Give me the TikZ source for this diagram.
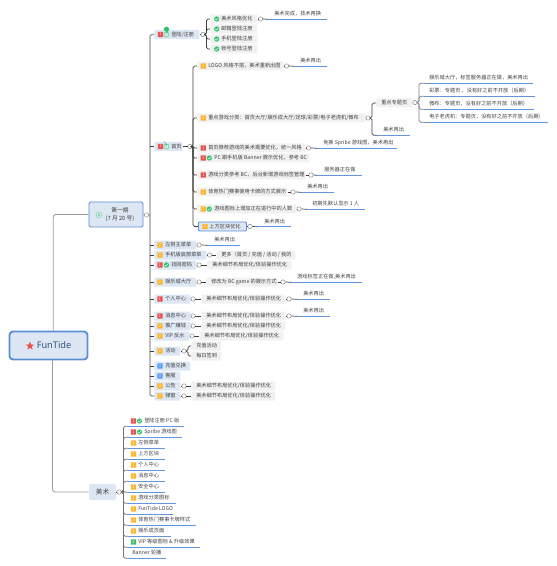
\documentclass[tikz,border=0pt]{standalone}
\usepackage{fontspec}
\usetikzlibrary{shapes.geometric,calc}
\setmainfont{Noto Sans CJK SC}
\newfontfamily\rootfont{Noto Sans}
\newdimen\px \px=0.75pt
\newcount\iconno
\definecolor{txt}{HTML}{404040}
\definecolor{pillc}{HTML}{F1F1F1}
\definecolor{brc}{HTML}{DDE6F3}
\definecolor{bluel}{HTML}{6396DA}
\definecolor{blueb}{HTML}{5B8FD6}
\definecolor{busc}{HTML}{3F3F3F}
\definecolor{trunkc}{HTML}{9B9B9B}
\definecolor{pred}{HTML}{E8534F}
\definecolor{pora}{HTML}{FFB52B}
\definecolor{pblu}{HTML}{5B9BF8}
\definecolor{pgre}{HTML}{3DBE6C}
\definecolor{okc}{HTML}{2CC36B}
\definecolor{rootc}{HTML}{34527F}
\tikzset{
  x=0.75pt,y=-0.75pt,
  base/.style={anchor=west,inner xsep=0pt,inner ysep=0pt,minimum height=9\px,text height=3.3pt,text depth=0.8pt,text=txt,font=\fontsize{3.9}{4.6}\selectfont,rounded corners=1\px},
  pill/.style={base,fill=pillc},
  branch/.style={base,fill=brc},
  plain/.style={base,minimum height=10\px},
  picked/.style={base,fill=brc,draw=blueb,line width=0.9\px},
  cir/.style={circle,draw=gray!90,fill=white,line width=0.5\px,minimum size=4.4\px,inner sep=0pt},
  bus/.style={draw=busc,line width=0.7\px,rounded corners=1.6\px},
  trunk/.style={draw=trunkc,line width=1.3\px,rounded corners=2\px},
  rootline/.style={draw=trunkc,line width=0.9\px,rounded corners=2.5\px},
  ul/.style={draw=bluel,line width=1.1\px},
  pri/.style={rectangle,minimum size=5.2\px,inner sep=0pt,text=white,font=\fontsize{2.8}{3}\selectfont,rounded corners=0.3\px},
  okdot/.style={circle,fill=okc,minimum size=5.2\px,inner sep=0pt},
}
% name, style, x, width, y, pad, text
\newcommand\tn[7]{\node[#2] (#1) at (#3,#5) {\makebox[#4\px][l]{\hspace*{#6\px}#7}};}
% underlined label: name, x, width, line y, pad, text
\newcommand\un[6]{\node[plain] (#1) at (#2,#4-5) {\makebox[#3\px][l]{\hspace*{#5\px}#6}};
  \draw[ul] (#1.south west) -- (#1.south east);}
\newcommand\cir[3]{\node[cir] (#1) at (#2,#3) {};}
\newcommand\pr[4]{\global\advance\iconno by 1 \node[pri,fill=#3] (icon\the\iconno) at (#1,#2) {#4};}
\newcommand\ok[2]{\global\advance\iconno by 1 \node[okdot] (icon\the\iconno) at (#1,#2) {};
  \draw[white,line width=0.45\px,line cap=round] (#1-1.4,#2+0.1) -- (#1-0.3,#2+1.1) -- (#1+1.4,#2-0.9);}
\newcommand\pie[3]{\global\advance\iconno by 1 \node[circle,draw=okc,line width=0.4\px,minimum size=5.2\px,inner sep=0pt] (icon\the\iconno) at (#1,#2) {};
  \fill[okc] (#1,#2) -- (#1,#2-2.6) arc[start angle=90,delta angle=#3,radius=2.6] -- cycle;}
\newcommand\lnk[2]{\draw[bus] (#1) -- (#2);}
\begin{document}
\begin{tikzpicture}
\useasboundingbox (0,0) rectangle (556,566);
\coordinate (tb) at (150,0);
\coordinate (b1) at (206.5,0);
\coordinate (b2) at (193,0);
\coordinate (b3) at (372,0);
\coordinate (b4) at (419,0);
\coordinate (b5) at (188,0);
\coordinate (b6) at (123.5,0);
% root and level one
\node[draw=blueb,fill=brc,line width=1.9\px,rounded corners=3.5\px,minimum width=78\px,minimum height=28\px,inner sep=0pt,text=rootc,font=\rootfont\fontsize{6.9}{9}\selectfont\bfseries] (root) at (48.5,345.5) {\hspace*{11\px}FunTide};
\node[star,star points=5,star point ratio=2.4,fill=pred,minimum size=9\px,inner sep=0pt] (rootstar) at (30,346) {};
\node[draw=blueb,fill=brc,line width=0.8\px,rounded corners=1.5\px,minimum width=54\px,minimum height=25\px,inner sep=0pt,text=txt,font=\fontsize{4.3}{5.6}\selectfont,align=center] (phase) at (116,214.5) {\hspace*{8\px}第一期\\\hspace*{8\px}(7 月 20 号)};
\global\advance\iconno by 1
\node[circle,draw=okc!60,line width=0.6\px,minimum size=5.6\px,inner sep=0pt] (icon\the\iconno) at (99,215) {};
\fill[okc!70] (99,215) circle (1.2);
\node[fill=brc,rounded corners=2\px,minimum width=27\px,minimum height=16\px,inner sep=0pt,text=txt,font=\fontsize{5}{6}\selectfont] (art) at (102.5,492) {美术};
\cir{cp}{146.5}{215}
\cir{ca}{119}{492}
\draw[rootline] ($(root.north west)!0.56!(root.north east)$) |- (phase.west);
\draw[rootline] ($(root.south west)!0.55!(root.south east)$) |- (art.west);
\draw[bus,draw=trunkc] (phase.east) -- (cp);
\lnk{art.east}{ca}
% level two
\tn{login}{branch}{154}{45}{34.5}{17}{登陆/注册}
\pr{160.5}{34.5}{pred}{1}\pie{166.5}{34.5}{270}
\cir{c1}{203}{34.5}
\tn{home}{branch}{154}{28}{146.5}{17}{首页}
\pr{160.5}{146.5}{pred}{1}\pie{166.5}{146.5}{100}
\cir{c2}{190}{146.5}
\tn{menu}{branch}{154}{42}{245}{11}{左侧主菜单}\pr{160}{245}{pora}{2}\cir{c3}{199}{245}
\tn{mob}{branch}{154}{52}{255}{11}{手机版底部菜单}\pr{160}{255}{pora}{2}\cir{c4}{209.5}{255}
\tn{pwd}{branch}{154}{42}{265}{17}{找回密码}\pr{160}{265}{pred}{1}\ok{166.5}{265}\cir{c5}{199}{265}
\tn{casino}{branch}{154}{42}{282}{11}{娱乐城大厅}\pr{160}{282}{pora}{2}\cir{c6}{199}{282}
\tn{user}{branch}{154}{36}{299}{11}{个人中心}\pr{160}{299}{pred}{1}\cir{c7}{193}{299}
\tn{msg}{branch}{154}{36}{316}{11}{消息中心}\pr{160}{316}{pred}{1}\cir{c8}{193}{316}
\tn{promo}{branch}{154}{36}{326}{11}{推广赚钱}\pr{160}{326}{pora}{2}\cir{c9}{193}{326}
\tn{vip}{branch}{154}{35}{336}{11}{VIP 反水}\pr{160}{336}{pora}{2}\cir{c10}{192}{336}
\tn{act}{branch}{154}{26}{351}{11}{活动}\pr{160}{351}{pora}{2}\cir{c11}{184}{351}
\tn{recharge}{branch}{154}{36}{366}{11}{充值兑换}\pr{160}{366}{pblu}{3}
\tn{service}{branch}{154}{26}{376}{11}{客服}\pr{160}{376}{pblu}{3}
\tn{notice}{branch}{154}{26}{386}{11}{公告}\pr{160}{386}{pora}{2}\cir{c12}{184}{386}
\tn{popup}{branch}{154}{26}{396}{11}{弹窗}\pr{160}{396}{pora}{2}\cir{c13}{184}{396}
\draw[trunk] (login.west) -- (login.west -| tb) -- (popup.west -| tb) -- (popup.west);
\draw[trunk,rounded corners=0pt] (cp.east) -- (cp.east -| tb);
\foreach \n in {home,menu,mob,pwd,casino,user,msg,promo,vip,act,recharge,service,notice}{\draw[bus] (\n.west -| tb) -- (\n.west);}
\foreach \p/\c in {login/c1,home/c2,menu/c3,mob/c4,pwd/c5,casino/c6,user/c7,msg/c8,promo/c9,vip/c10,act/c11,notice/c12,popup/c13}{\lnk{\p.east}{\c}}
% login children
\tn{l1}{pill}{210}{47}{19}{11}{美术风格优化}\ok{216.7}{19}\cir{cl1}{260.5}{19}
\tn{l2}{pill}{210}{47}{29}{11}{邮箱登陆注册}\ok{216.7}{29}
\tn{l3}{pill}{210}{47}{39}{11}{手机登陆注册}\ok{216.7}{39}
\tn{l4}{pill}{210}{47}{49}{11}{帐号登陆注册}\ok{216.7}{49}
\foreach \n in {l1,l2,l3,l4}{\draw[bus] (c1.east) -- (c1.east -| b1) |- (\n.west);}
\un{lu}{268}{58}{19}{6}{美术完成，技术再换}
\lnk{l1.east}{cl1}\draw[bus] (cl1.east) -- (lu.south west);
% home children
\tn{h1}{pill}{197}{86}{66}{11}{LOGO 风格不搭，美术重新出图}\pr{203.3}{66}{pora}{2}\cir{ch1}{286.5}{66}
\un{hu1}{294}{32}{66}{6}{美术再出}
\tn{h2}{pill}{197}{168}{118}{11}{重点游戏分类：首页大厅/娱乐成大厅/足球/彩票/电子老虎机/微布}\pr{203.3}{118}{pora}{2}\cir{ch2}{368}{118}
\tn{h3}{pill}{197}{108}{148}{11}{首页推荐游戏的美术需要优化，统一风格}\pr{203.3}{148}{pred}{1}\cir{ch3}{308.5}{148}
\un{hu3}{317}{79}{148}{6}{免换 Spribe 游戏图，美术再出}
\tn{h4}{pill}{197}{112}{158}{17}{PC 跟手机版 Banner 展示优化，参考 BC}\pr{203.3}{158}{pred}{1}\ok{209.3}{158}
\tn{h5}{pill}{197}{108}{175}{11}{游戏分类参考 BC，后台新增游戏标签管理}\pr{203.3}{175}{pred}{1}\cir{ch5}{311}{175}
\un{hu5}{317}{44}{175}{7}{服务器正在做}
\tn{h6}{pill}{197}{90}{192}{11}{体育热门赛事使用卡牌的方式展示}\pr{203.3}{192}{pora}{2}\cir{ch6}{293}{192}
\un{hu6}{301}{32}{192}{6}{美术再出}
\tn{h7}{pill}{197}{99}{209}{17}{游戏图标上增加正在进行中的人数}\pr{203.3}{209}{pora}{2}\ok{209.3}{209}\cir{ch7}{299}{209}
\un{hu7}{307}{57}{209}{5}{初期先默认显示 1 人}
\tn{h8}{picked}{198}{48}{226.5}{11}{上方区块优化}\pr{205}{226.5}{pora}{2}\cir{ch8}{250}{226.5}
\un{hu8}{258}{32}{226.5}{6}{美术再出}
\foreach \n in {h1,h2,h3,h4,h5,h6,h7,h8}{\draw[bus] (c2.east) -- (c2.east -| b2) |- (\n.west);}
\foreach \a/\c/\u in {h1/ch1/hu1,h3/ch3/hu3,h5/ch5/hu5,h6/ch6/hu6,h7/ch7/hu7,h8/ch8/hu8}{\lnk{\a.east}{\c}\draw[bus] (\c.east) -- (\u.south west);}
\lnk{h2.east}{ch2}
% key topics
\tn{k1}{pill}{376}{36}{103}{5}{重点专题页}\cir{ck1}{415}{102.5}
\un{k2}{377}{32}{135}{6}{美术再出}
\draw[bus] (ch2.east) -- (ch2.east -| b3) |- (k1.west);
\draw[bus] (ch2.east) -- (ch2.east -| b3) |- (k2.south west);
\lnk{k1.east}{ck1}
\un{t1}{424}{108}{83}{5}{娱乐城大厅，标签服务器正在做，美术再出}
\un{t2}{424}{110}{96}{5}{彩票：专题页 ，没有好之前不开放（后期）}
\un{t3}{424}{109}{109}{5}{微布：专题页，没有好之前不开放（后期）}
\un{t4}{424}{123}{122}{5}{电子老虎机：专题页，没有好之前不开放（后期）}
\foreach \n in {t1,t2,t3,t4}{\draw[bus,draw=trunkc!80!black] (ck1.east) -- (ck1.east -| b4) |- (\n.south west);}
% other pills
\un{mu}{208}{31}{245}{6}{美术再出}\draw[bus] (c3.east) -- (mu.south west);
\tn{mp}{pill}{216}{79}{255}{5}{更多（首页 / 充值 / 活动 / 我的}\lnk{c4.east}{mp.west}
\tn{pp}{pill}{207}{84}{265}{5}{美术细节布局优化/体验操作优化}\lnk{c5.east}{pp.west}
\tn{cap}{pill}{206}{71}{282}{5}{修改为 BC game 的展示方式}\lnk{c6.east}{cap.west}\cir{cc6}{283}{282}\lnk{cap.east}{cc6}
\un{cau}{291}{70}{282}{6}{游戏标签正在做,美术再出}\draw[bus] (cc6.east) -- (cau.south west);
\tn{up}{pill}{201}{84}{299}{5}{美术细节布局优化/体验操作优化}\lnk{c7.east}{up.west}\cir{cc7}{289}{299}\lnk{up.east}{cc7}
\un{uu}{297}{32}{299}{6}{美术再出}\draw[bus] (cc7.east) -- (uu.south west);
\tn{mgp}{pill}{201}{84}{316}{5}{美术细节布局优化/体验操作优化}\lnk{c8.east}{mgp.west}\cir{cc8}{289}{316}\lnk{mgp.east}{cc8}
\un{mgu}{297}{32}{316}{6}{美术再出}\draw[bus] (cc8.east) -- (mgu.south west);
\tn{prp}{pill}{201}{84}{326}{5}{美术细节布局优化/体验操作优化}\lnk{c9.east}{prp.west}
\tn{vp}{pill}{199}{84}{336}{5}{美术细节布局优化/体验操作优化}\lnk{c10.east}{vp.west}
\tn{a1}{pill}{191}{30}{346}{5}{充值活动}
\tn{a2}{pill}{191}{30}{356}{5}{每日签到}
\foreach \n in {a1,a2}{\draw[bus] (c11.east) -- (c11.east -| b5) |- (\n.west);}
\tn{np}{pill}{191}{84}{386}{5}{美术细节布局优化/体验操作优化}\lnk{c12.east}{np.west}
\tn{ppp}{pill}{191}{84}{396}{5}{美术细节布局优化/体验操作优化}\lnk{c13.east}{ppp.west}
% art children
\un{r1}{128}{55}{426}{16}{登陆注册 PC 版}\pr{133.5}{421}{pred}{1}\ok{139.5}{421}
\un{r2}{128}{53}{437}{16}{Spribe 游戏图}\pr{133.5}{432}{pred}{1}\ok{139.5}{432}
\un{r3}{128}{36}{448}{10}{左侧菜单}\pr{133.5}{443}{pora}{2}
\un{r4}{128}{36}{459}{10}{上方区块}\pr{133.5}{454}{pora}{2}
\un{r5}{128}{36}{470}{10}{个人中心}\pr{133.5}{465}{pora}{2}
\un{r6}{128}{36}{481}{10}{消息中心}\pr{133.5}{476}{pora}{2}
\un{r7}{128}{36}{492}{10}{安全中心}\pr{133.5}{487}{pora}{2}
\un{r8}{128}{47}{503}{10}{游戏分类图标}\pr{133.5}{498}{pora}{2}
\un{r9}{128}{44}{514}{10}{FunTide LOGO}\pr{133.5}{509}{pora}{2}
\un{r10}{128}{67}{525}{10}{体育热门赛事卡牌样式}\pr{133.5}{520}{pora}{2}
\un{r11}{128}{42}{536}{10}{娱乐成页面}\pr{133.5}{531}{pora}{2}
\un{r12}{128}{71}{547}{10}{VIP 等级图标 \& 升级效果}\pr{133.5}{542}{pgre}{4}
\un{r13}{128}{37}{558}{4}{Banner 轮播}
\foreach \i in {1,...,13}{\draw[bus,draw=gray!90!black] (ca.east) -- (ca.east -| b6) |- (r\i.south west);}
\end{tikzpicture}
\end{document}
